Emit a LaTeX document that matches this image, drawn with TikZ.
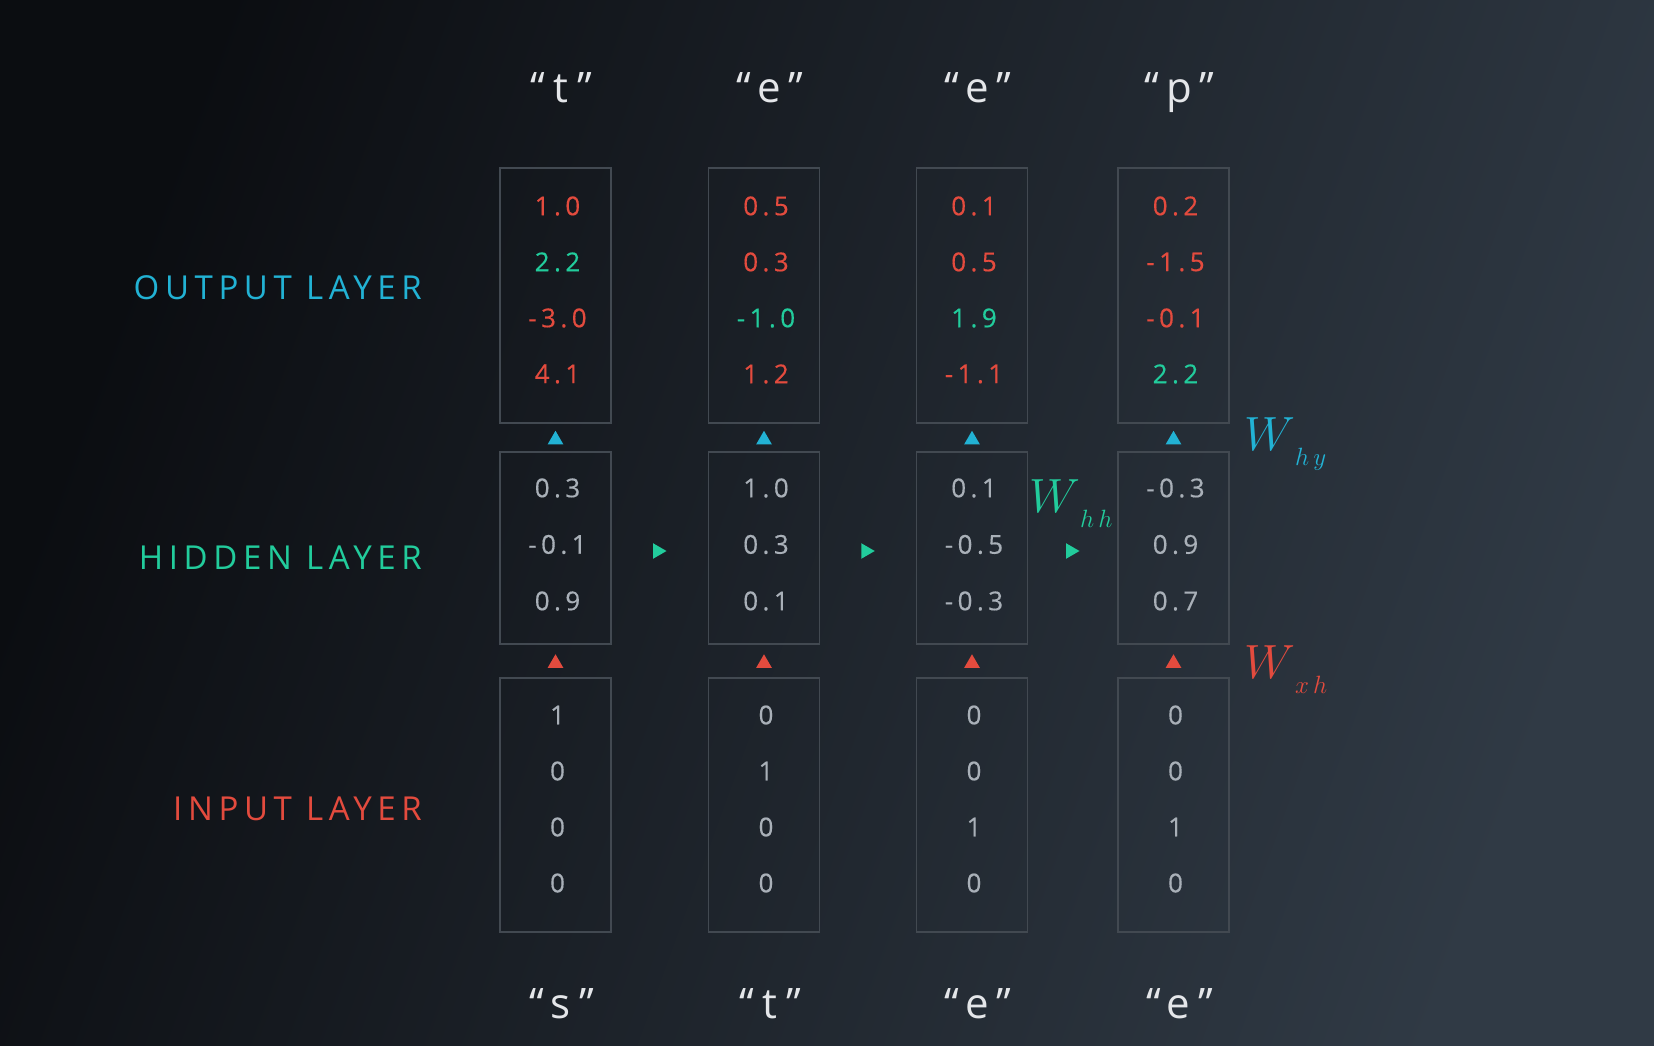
\RequirePackage{fix-cm}
\documentclass[tikz,border=0pt]{standalone}
\usepackage{fontspec}
\setmainfont{Open Sans}
\newfontfamily\numfont[LetterSpace=17,FakeBold=0.4]{Open Sans}
\newfontfamily\layerfont[LetterSpace=17]{Open Sans}
\newfontfamily\quotefont[LetterSpace=20]{Open Sans}
\usetikzlibrary{positioning,calc,shapes.geometric}

\definecolor{bgdark}{HTML}{0B0D11}
\definecolor{bgmid}{HTML}{181C23}
\definecolor{bglight}{HTML}{303A45}
\definecolor{lcyan}{HTML}{22B2D4}
\definecolor{lgreen}{HTML}{22CC9C}
\definecolor{lred}{HTML}{E34B3E}
\definecolor{numgray}{HTML}{A9B0B8}
\definecolor{boxgray}{HTML}{424951}
\definecolor{quotewhite}{HTML}{E4E6E9}

\newcommand\wsym[1]{{\fontsize{48}{52}\selectfont$W$}\raisebox{-15pt}{\fontsize{25}{28}\selectfont$#1$}}

\tikzset{
  cell/.style={draw=boxgray,line width=1.5pt,minimum width=111pt,inner sep=0pt,outer sep=0pt},
  num/.style={font=\numfont\fontsize{26}{30}\selectfont,text=numgray,inner sep=0pt,xshift=2pt},
  layerlabel/.style={font=\layerfont\fontsize{33}{38}\selectfont,anchor=east,inner sep=0pt},
  charlabel/.style={font=\quotefont\fontsize{42}{50}\selectfont,text=quotewhite,anchor=base,inner sep=0pt},
  arrowtri/.style={regular polygon,regular polygon sides=3,minimum size=18pt,inner sep=0pt,draw=none},
  wlabel/.style={anchor=base west,inner sep=0pt},
}

\begin{document}
\begin{tikzpicture}[x=1pt,y=-1pt]
  \useasboundingbox (0,0) rectangle (1654,1046); % 画像の大きさ
  \shade[top color=bgdark,middle color=bgmid,bottom color=bglight,shading angle=70]
    (0,0) rectangle (1654,1046); % 背景のグラデーション

  % 層の名前
  \node[layerlabel,text=lcyan] (outname) at (422,288) {OUTPUT LAYER};
  \node[layerlabel,text=lgreen] (hidname) at (422,558) {HIDDEN LAYER};
  \node[layerlabel,text=lred] (inpname) at (422,809) {INPUT LAYER};

  % 各時刻の列
  \foreach \i/\x/\ytxt/\xtxt/\outv/\hidv/\inv in {
    1/555.5/t/s/{lred/1.0,lgreen/2.2,lred/-3.0,lred/4.1}/{0.3,-0.1,0.9}/{1,0,0,0},
    2/764/e/t/{lred/0.5,lred/0.3,lgreen/-1.0,lred/1.2}/{1.0,0.3,0.1}/{0,1,0,0},
    3/972/e/e/{lred/0.1,lred/0.5,lgreen/1.9,lred/-1.1}/{0.1,-0.5,-0.3}/{0,0,1,0},
    4/1173.5/p/e/{lred/0.2,lred/-1.5,lred/-0.1,lgreen/2.2}/{-0.3,0.9,0.7}/{0,0,1,0}}{
    \node[cell,minimum height=255pt] (out\i) at (\x,295.5) {}; % 出力層の枠
    \node[cell,minimum height=192pt] (hid\i) at (\x,548) {}; % 隠れ層の枠
    \node[cell,minimum height=254pt] (inp\i) at (\x,805) {}; % 入力層の枠
    \node[charlabel] (ych\i) at (\x+6,103) {“\ytxt”}; % 出力の文字
    \node[charlabel] (xch\i) at (\x+6,1018) {“\xtxt”}; % 入力の文字
    \foreach \c/\v [count=\k] in \outv
      \node[num,text=\c] (out\i-\k) at ($(out\i.north)+(0,{38+56*(\k-1)})$) {\v}; % 出力の値
    \foreach \v [count=\k] in \hidv
      \node[num] (hid\i-\k) at ($(hid\i.north)+(0,{36+56.5*(\k-1)})$) {\v}; % 隠れ状態の値
    \foreach \v [count=\k] in \inv
      \node[num] (inp\i-\k) at ($(inp\i.north)+(0,{37+56*(\k-1)})$) {\v}; % one-hot入力
    \path (hid\i.north) -- node[arrowtri,fill=lcyan,yshift=-2.25pt] (ay\i) {} (out\i.south); % 隠れ層→出力層
    \path (inp\i.north) -- node[arrowtri,fill=lred,yshift=-2.25pt] (ax\i) {} (hid\i.south); % 入力層→隠れ層
  }

  % 隠れ層どうしの矢印
  \foreach \i/\j in {1/2,2/3,3/4}
    \path (hid\i.east) -- node[arrowtri,fill=lgreen,shape border rotate=-90,xshift=-2.25pt,yshift=-3pt] (ah\i) {} (hid\j.west);

  % 重みの記号
  \node[wlabel,text=lcyan] (why) at (1244,450) {\wsym{h\,y}};
  \node[wlabel,text=lgreen] (whh) at (1029,512) {\wsym{h\,h}};
  \node[wlabel,text=lred] (wxh) at (1244,678) {\wsym{x\,h}};
\end{tikzpicture}
\end{document}
